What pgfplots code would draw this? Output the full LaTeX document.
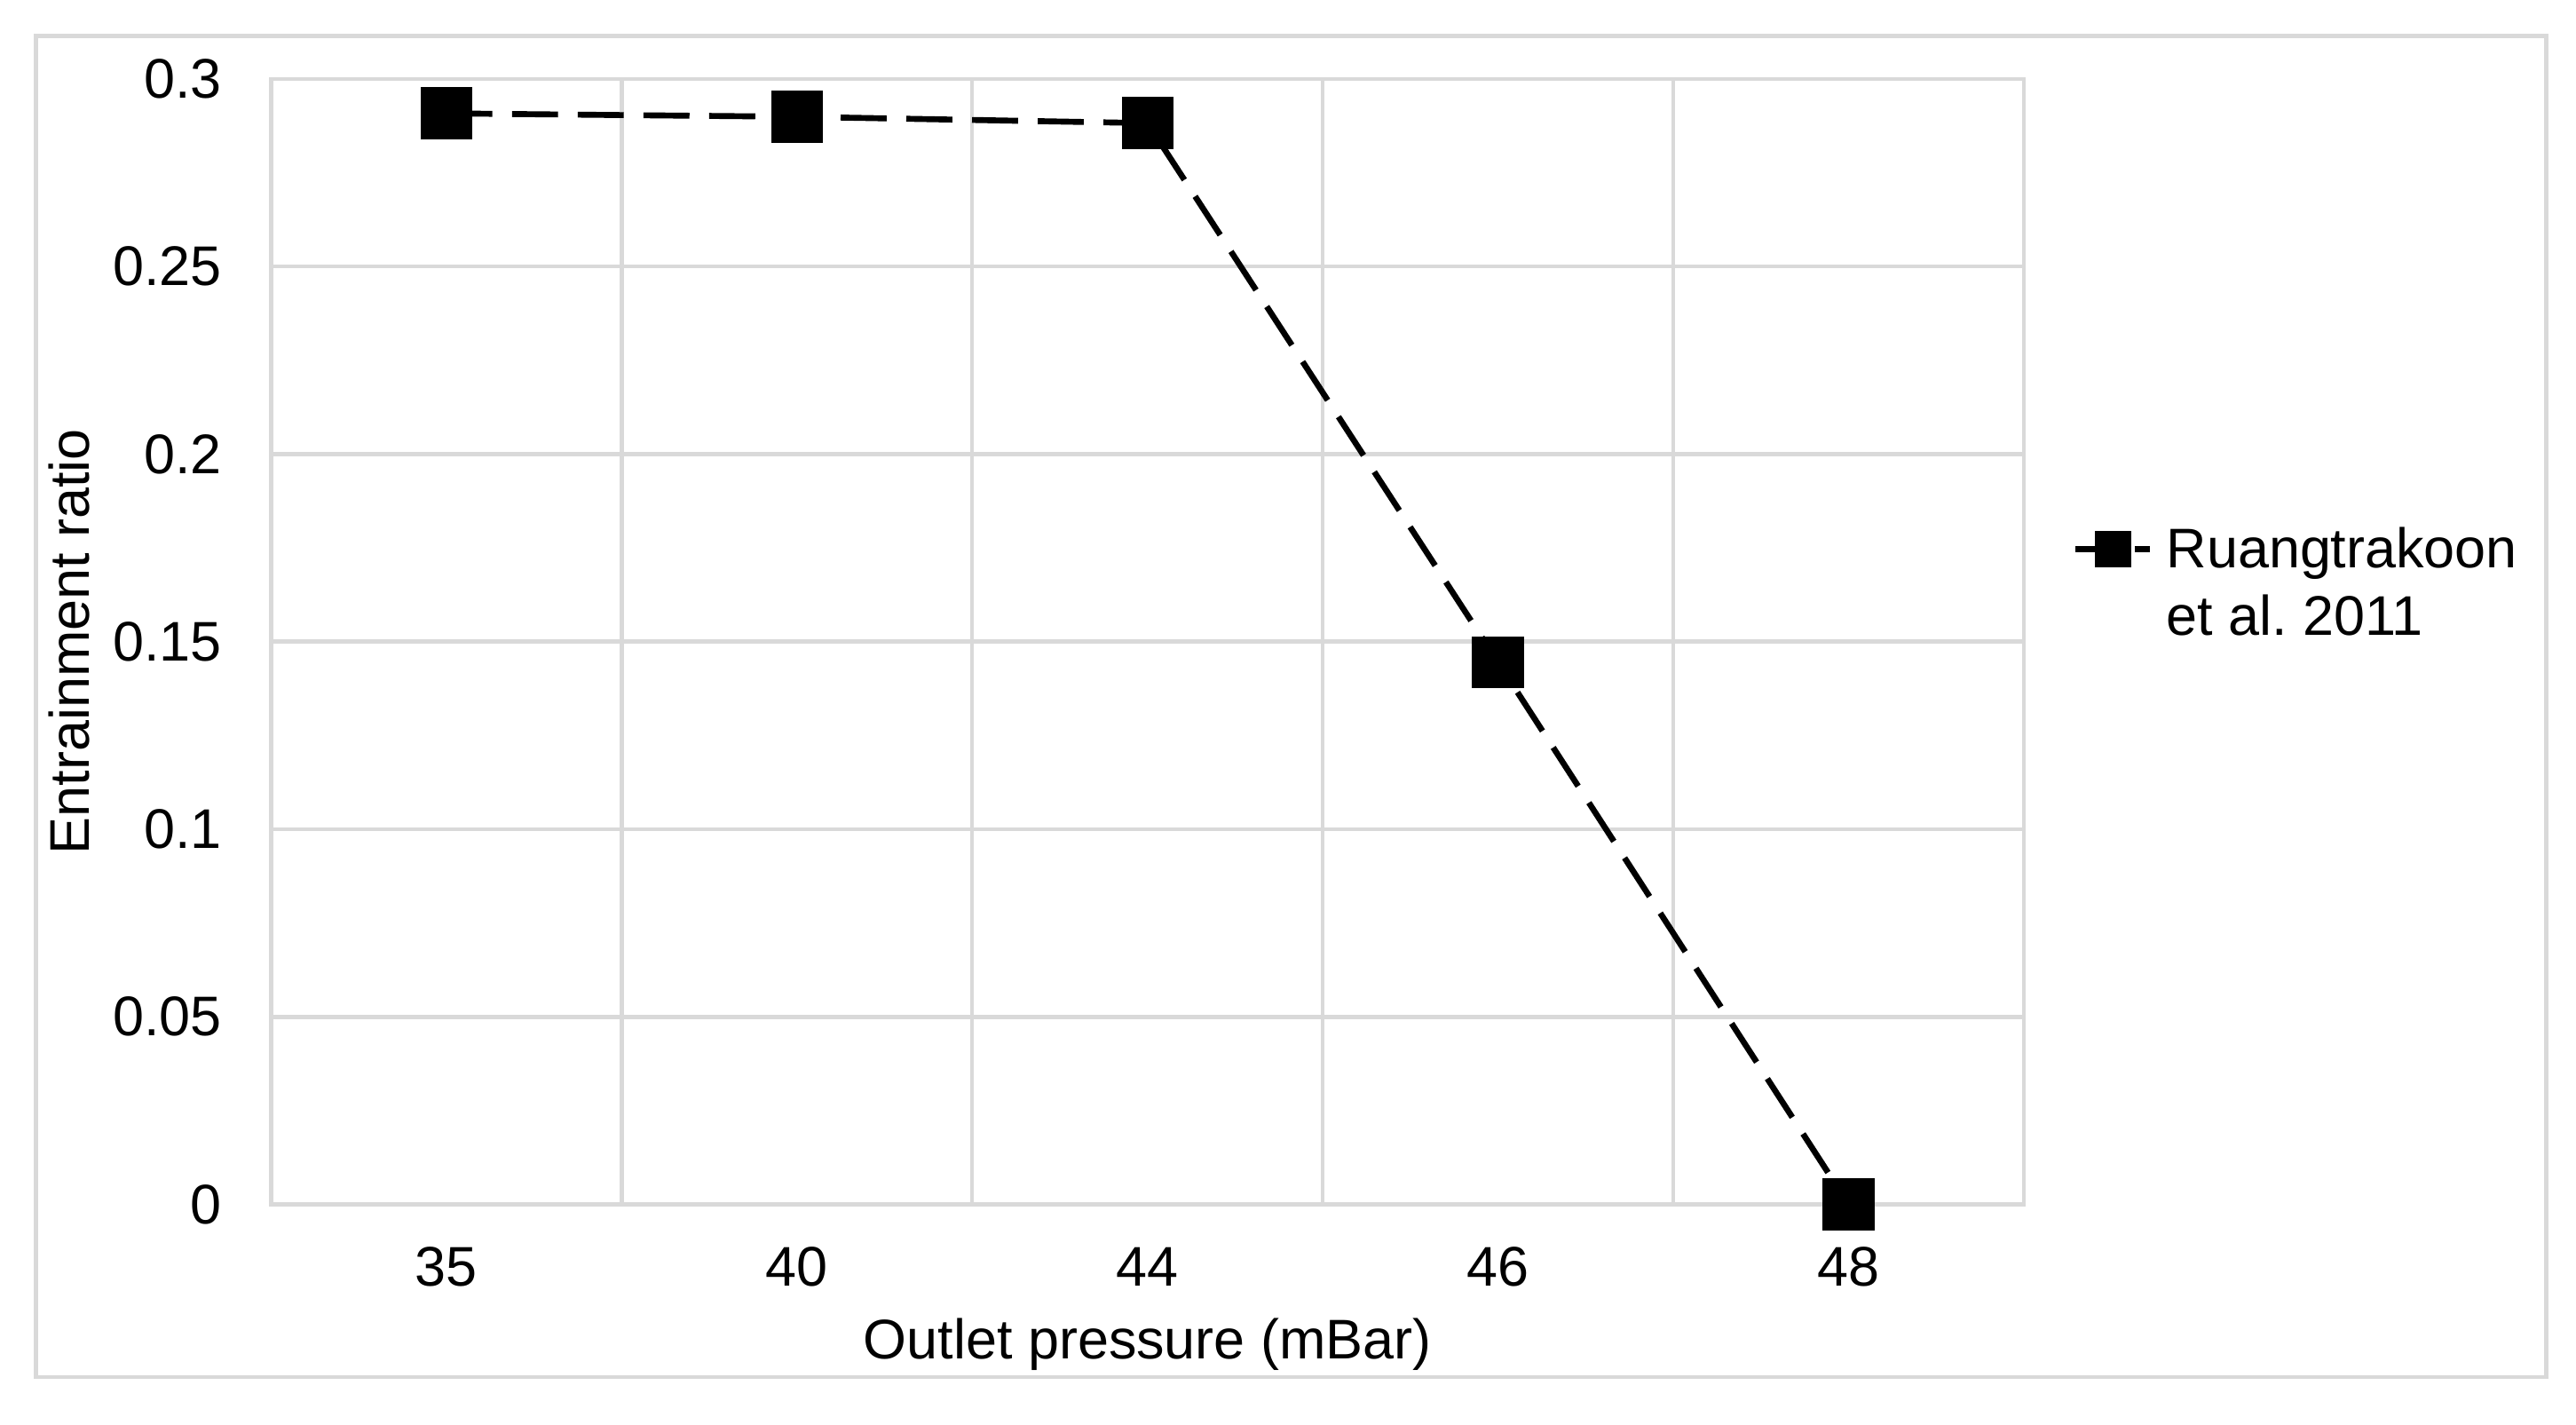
\documentclass[border=0pt]{standalone}
\usepackage{pgfplots}
\pgfplotsset{compat=1.18}
\usepackage{fontspec}
\setmainfont{Liberation Sans}
\definecolor{gridc}{HTML}{D9D9D9}
\begin{document}
\begin{tikzpicture}[x=1pt,y=1pt]
\useasboundingbox (0,0) rectangle (392,216.75);
\draw[gridc, line width=0.6pt] (5.5,7.25) rectangle (387.5,211.25);
\begin{axis}[
  at={(41.25pt,33.5pt)}, anchor=south west,
  scale only axis, width=266.75pt, height=171.25pt,
  xmin=-0.5, xmax=4.5, ymin=0, ymax=0.3,
  xtick={0,1,2,3,4}, xticklabels={35,40,44,46,48},
  minor xtick={0.5,1.5,2.5,3.5},
  xminorgrids=true, ymajorgrids=true,
  ytick={0,0.05,0.1,0.15,0.2,0.25,0.3},
  yticklabels={0,0.05,0.1,0.15,0.2,0.25,0.3},
  major tick length=0pt, minor tick length=0pt,
  grid style={gridc, line width=0.6pt},
  minor grid style={gridc, line width=0.6pt},
  axis line style={gridc, line width=0.6pt},
  tick label style={font=\fontsize{8.5}{10.25}\selectfont, text=black},
  xticklabel style={anchor=center, yshift=-9.5pt},
  yticklabel style={anchor=east, xshift=-4pt},
  xlabel={Outlet pressure (mBar)}, ylabel={Entrainment ratio},
  every axis x label/.style={at={(axis description cs:0.5,-0.124)}, anchor=center,
    font=\fontsize{8.5}{10.25}\selectfont, text=black},
  every axis y label/.style={at={(axis description cs:-0.1153,0.5)}, rotate=90, anchor=center,
    font=\fontsize{8.5}{10.25}\selectfont, text=black},
  clip=false,
  legend style={at={(axis description cs:1.027,0.582)}, anchor=west, draw=none, fill=none,
    font=\fontsize{8.5}{10.25}\selectfont, inner sep=0pt},
  legend cell align=left,
  legend image code/.code={\draw[mark repeat=2,mark phase=2,#1, mark size=2.3pt, dash pattern=on 3pt off 1.5pt] plot coordinates {(0cm,0cm) (0.2cm,0cm) (0.4cm,0cm)};},
]
\addplot[black, line width=0.9pt, dash pattern=on 7pt off 3pt, mark=square*, mark size=3.5pt, mark options={solid}]
  coordinates {(0,0.2908) (1,0.2899) (2,0.2882) (3,0.1445) (4,0.0)};
\addlegendentry{\begin{tabular}[t]{@{}l@{}}Ruangtrakoon\\et al.\ 2011\end{tabular}}
\end{axis}
\end{tikzpicture}
\end{document}
